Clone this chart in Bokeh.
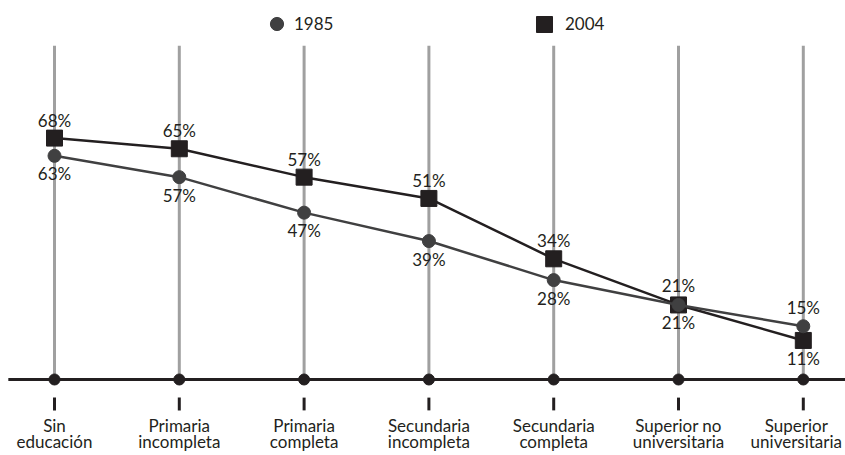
from bokeh.plotting import figure
from bokeh.models import ColumnDataSource, Range1d, Legend, LegendItem
from bokeh.core.properties import value
from bokeh.embed import file_html
from bokeh.resources import INLINE

# --- data -------------------------------------------------------------
categories = [
    "Sin\neducación",
    "Primaria\nincompleta",
    "Primaria\ncompleta",
    "Secundaria\nincompleta",
    "Secundaria\ncompleta",
    "Superior no\nuniversitaria",
    "Superior\nuniversitaria",
]
series_names = ["1985", "2004"]
pct_1985 = [63, 57, 47, 39, 28, 21, 15]
pct_2004 = [68, 65, 57, 51, 34, 21, 11]

# --- layout constants ---------------------------------------------------
W, H = 845, 455
PX_PER_UNIT = 3.55      # vertical pixels per percentage point
ZERO_PX = 379           # pixel row of the 0 % baseline (from top)
STEP_PX = 124.8         # horizontal distance between categories
FIRST_PX = 54           # pixel column of the first category

DARK = "#231f20"
MID = "#404041"
GRID = "#a0a0a0"
FONT = "Lato"

n = len(categories)
xs = list(range(n))

p = figure(
    width=W, height=H,
    x_range=Range1d(-FIRST_PX / STEP_PX, (W - FIRST_PX) / STEP_PX),
    y_range=Range1d(-(H - ZERO_PX) / PX_PER_UNIT, ZERO_PX / PX_PER_UNIT),
    x_axis_type=None, y_axis_type=None,
    output_backend="svg", toolbar_location=None,
    min_border=0, min_border_left=0, min_border_right=0,
    min_border_top=0, min_border_bottom=0,
    outline_line_color=None, background_fill_color="white",
    border_fill_color="white",
)
p.grid.visible = False

# vertical guide for each category
guide_top = 94
p.segment(x0=xs, y0=[0] * n, x1=xs, y1=[guide_top] * n,
          line_color=GRID, line_width=3)

# baseline with a dot per category
p.segment(x0=[-0.37], y0=[0], x1=[n], y1=[0], line_color=DARK, line_width=3)
p.scatter(x=xs, y=[0] * n, marker="circle", size=11,
          fill_color=DARK, line_color=DARK)

# small tick under each category
p.segment(x0=xs, y0=[-5.1] * n, x1=xs, y1=[-8.7] * n,
          line_color=DARK, line_width=3)

# series
src85 = ColumnDataSource(dict(x=xs, y=pct_1985,
                              lbl=[f"{v}%" for v in pct_1985]))
src04 = ColumnDataSource(dict(x=xs, y=pct_2004,
                              lbl=[f"{v}%" for v in pct_2004]))

p.line("x", "y", source=src04, line_color=DARK, line_width=2.5)
r04 = p.scatter("x", "y", source=src04, marker="square", size=16,
                fill_color=DARK, line_color=DARK)
p.line("x", "y", source=src85, line_color=MID, line_width=2.5)
r85 = p.scatter("x", "y", source=src85, marker="circle", size=13,
                fill_color=MID, line_color=MID)

# value labels: 2004 above / 1985 below, swapped for the last two groups
side_2004 = ["above"] * 5 + ["below"] * 2
side_1985 = ["below"] * 5 + ["above"] * 2
src04.data["yo"] = [-18 if s == "above" else 18 for s in side_2004]
src85.data["yo"] = [-19 if s == "above" else 18 for s in side_1985]

for src in (src04, src85):
    p.text("x", "y", text="lbl", source=src, y_offset="yo",
           text_align="center", text_baseline="middle",
           text_font=value(FONT), text_font_size="17px", text_color=DARK)

# category labels, two lines each
first_lines = [c.split("\n")[0] for c in categories]
second_lines = [c.split("\n")[1] for c in categories]
label_shift = [0] * (n - 1) + [-7]
for lines, ly in ((first_lines, -12.9), (second_lines, -17.5)):
    src = ColumnDataSource(dict(x=xs, y=[ly] * n, text=lines, xo=label_shift))
    p.text("x", "y", text="text", source=src, x_offset="xo",
           text_align="center", text_baseline="alphabetic",
           text_font=value(FONT), text_font_size="17px", text_color=DARK)

# legend: one entry per series, laid out across the top
common = dict(orientation="horizontal", padding=0, margin=0, spacing=0,
              border_line_alpha=0, background_fill_alpha=0,
              label_text_font=FONT, label_text_font_size="17px",
              label_text_color=DARK, label_standoff=1)
leg85 = Legend(items=[LegendItem(label=series_names[0], renderers=[r85])],
               location=(260, H - 39.5), glyph_width=33, glyph_height=33,
               **common)
leg04 = Legend(items=[LegendItem(label=series_names[1], renderers=[r04])],
               location=(524, H - 43.5), glyph_width=40, glyph_height=40,
               **common)
p.add_layout(leg85)
p.add_layout(leg04)

open("out.html", "w").write(file_html(p, INLINE))
